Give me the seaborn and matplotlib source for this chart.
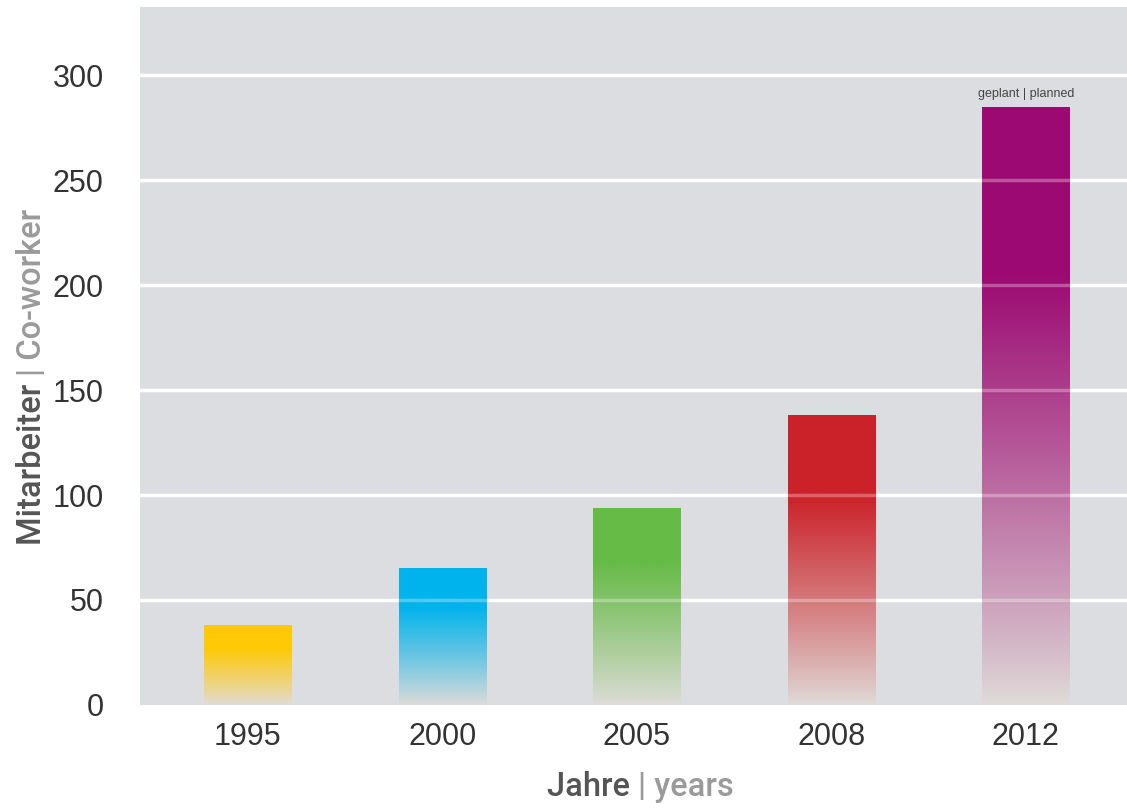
import numpy as np
import pandas as pd
import matplotlib
matplotlib.use("Agg")
import matplotlib.pyplot as plt
import matplotlib.colors as mcolors
import seaborn as sns

# Daten
years = ["1995", "2000", "2005", "2008", "2012"]
employees = [38, 65, 94, 138, 285]
bar_colors = ["#ffc905", "#00b3ec", "#66bb47", "#cb2229", "#9c0a72"]
fade_color = "#dfdcd9"
bg_color = "#dcdde0"

data = pd.DataFrame({"year": years, "employees": employees})

sns.set_theme(style="white")
plt.rcParams["font.family"] = ["Roboto", "DejaVu Sans"]

fig = plt.figure(figsize=(11.27, 8.08), dpi=100)
ax = fig.add_axes([0.1242, 0.1275, 0.8758, 0.8638])
ax.set_facecolor(bg_color)

sns.barplot(data=data, x="year", y="employees", hue="year",
            palette=bar_colors, width=0.45, legend=False, ax=ax,
            zorder=2, linewidth=0)

# Farbverlauf in jedem Balken
for patch, col in zip(ax.patches, bar_colors):
    x0 = patch.get_x()
    w = patch.get_width()
    h = patch.get_height()
    top = np.array(mcolors.to_rgb(col))
    bot = np.array(mcolors.to_rgb(fade_color))
    t = np.linspace(0, 1, 256)
    t = np.clip(t / 0.72, 0, 1) ** 0.9
    grad = bot[None, :] + t[:, None] * (top - bot)[None, :]
    img = ax.imshow(grad[:, None, :], extent=[x0, x0 + w, 0, h],
                    origin="lower", aspect="auto", zorder=3)
    img.set_clip_path(patch)
    patch.set_facecolor("none")

ax.set_xlim(-0.555, 4.52)
ax.set_ylim(0, 332.4)

# Gitterlinien
ticks = [0, 50, 100, 150, 200, 250, 300]
for yv in ticks[1:]:
    ax.axhline(yv, color="white", linewidth=2.5, zorder=1)
    ax.axhline(yv, color="white", linewidth=2.5, alpha=0.3, zorder=4)

ax.set_yticks(ticks)
ax.set_yticklabels([str(v) for v in ticks])
ax.tick_params(axis="y", length=0, pad=26, labelsize=22, labelcolor="#333333")
ax.tick_params(axis="x", length=0, pad=12, labelsize=22, labelcolor="#333333")
for lab in ax.get_xticklabels() + ax.get_yticklabels():
    lab.set_family(["Liberation Sans", "DejaVu Sans"])
for s in ax.spines.values():
    s.set_visible(False)
ax.set_xlabel("")
ax.set_ylabel("")

# Hinweis
ax.text(4, employees[4] + 3, "geplant | planned", ha="center", va="bottom",
        fontsize=9, color="#444444", zorder=5,
        family=["Liberation Sans", "DejaVu Sans"])

# Achsenbeschriftungen (zweifarbig)
xl = fig.text(0.566, 0.006, "Jahre ", ha="right", va="bottom",
              fontsize=23.5, color="#555555", fontweight="medium")
ax.annotate("| years", xy=(1, 0), xycoords=xl, ha="left", va="bottom",
            fontsize=23.5, color="#9a9a9a", fontweight="medium")

yl = fig.text(0.028, 0.325, "Mitarbeiter ", ha="center", va="bottom",
              rotation=90, fontsize=23.5, color="#555555", fontweight="medium")
ax.annotate("| Co-worker", xy=(0.5, 1), xycoords=yl, ha="center", va="bottom",
            rotation=90, fontsize=23.5, color="#9a9a9a", fontweight="medium")

fig.savefig("out.png", dpi=100)
